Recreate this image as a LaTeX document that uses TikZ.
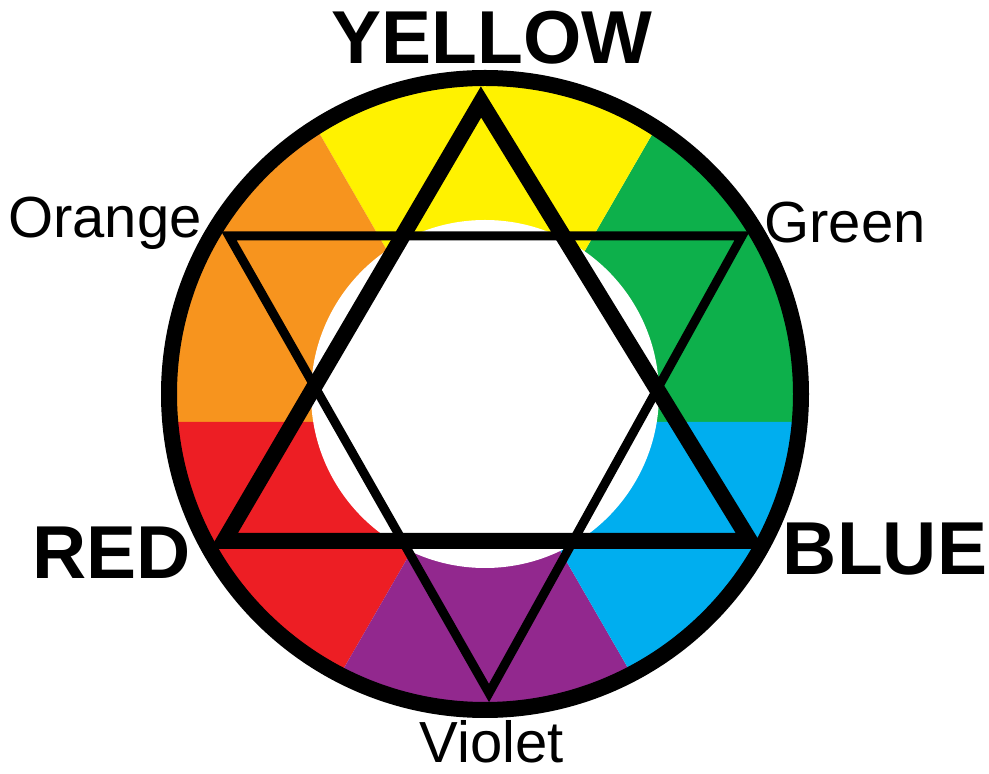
\documentclass[tikz,border=0pt]{standalone}
\usepackage{fontspec}
\setmainfont{Liberation Sans}
\usetikzlibrary{positioning}
\definecolor{wheelyellow}{RGB}{255,242,0}
\definecolor{wheelorange}{RGB}{247,148,30}
\definecolor{wheelred}{RGB}{237,30,36}
\definecolor{wheelviolet}{RGB}{146,40,142}
\definecolor{wheelblue}{RGB}{0,174,239}
\definecolor{wheelgreen}{RGB}{13,176,75}
\tikzset{
  primary/.style={font=\fontsize{75}{80}\selectfont\bfseries, inner sep=0pt, anchor=base},
  secondary/.style={font=\fontsize{58}{62}\selectfont, inner sep=0pt, anchor=base},
  major/.style={line width=16pt, miter limit=10},
  minor/.style={line width=9pt, miter limit=10}
}

\begin{document}
\begin{tikzpicture}[x=1pt, y=1pt]
  \useasboundingbox (0,0) rectangle (989,774);
  \coordinate (c) at (485,380);
  \coordinate (o) at (486,352);
  % colour wedges
  \begin{scope}
    \clip (c) circle[radius=316pt];
    \foreach \col [count=\i from 0] in {wheelgreen,wheelyellow,wheelorange,wheelred,wheelviolet,wheelblue}{
      \fill[\col] (o) -- ++(\i*60:700pt) arc[start angle=\i*60, end angle=\i*60+60, radius=700pt] -- cycle;
    }
  \end{scope}
  \fill[white] (c) circle[radius=174pt];
  \draw[line width=16pt] (c) circle[radius=316pt];
  % star
  \coordinate (Ytip) at (481,672);
  \coordinate (Rtip) at (224,233);
  \coordinate (Btip) at (750,233);
  \coordinate (Otip) at (229,538);
  \coordinate (Gtip) at (742,538);
  \coordinate (Vtip) at (489,81);
  \draw[minor] (Otip) -- (Gtip) -- (Vtip) -- cycle;
  \draw[major] (Ytip) -- (Rtip) -- (Btip) -- cycle;
  % labels
  \node[primary] (yellow) at (492,710) {YELLOW};
  \node[primary] (red) at (112,195) {RED};
  \node[primary] (blue) at (885,199) {BLUE};
  \node[secondary] (orange) at (105,536) {Orange};
  \node[secondary] (green) at (845,531) {Green};
  \node[secondary] (violet) at (492,11) {Violet};
\end{tikzpicture}
\end{document}
